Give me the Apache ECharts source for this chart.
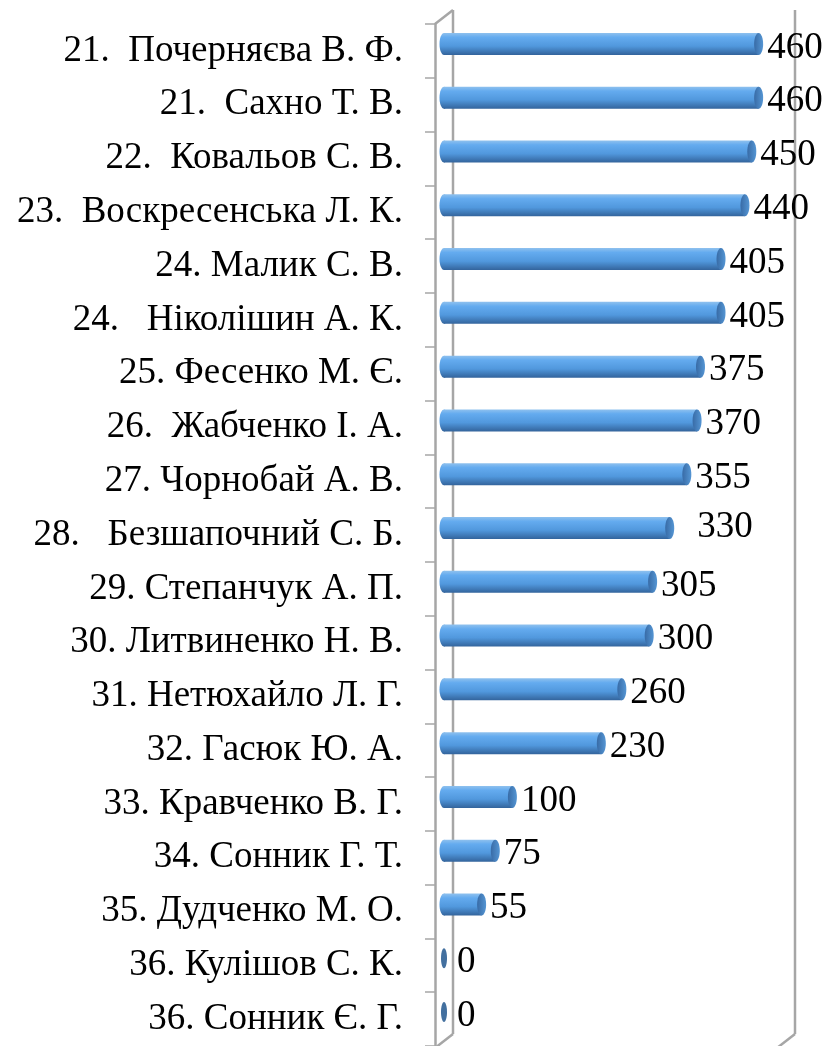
<!DOCTYPE html>
<html>
<head>
<meta charset="utf-8">
<script src="https://cdn.jsdelivr.net/npm/echarts@6/dist/echarts.min.js"></script>
<style>
  html, body { margin: 0; padding: 0; background: #fff; }
  #chart { width: 829px; height: 1046px; }
</style>
</head>
<body>
<div id="chart"></div>
<script>
// names, top to bottom
var names = [
    "21.  Почерняєва В. Ф.",
    "21.  Сахно Т. В.",
    "22.  Ковальов С. В.",
    "23.  Воскресенська Л. К.",
    "24. Малик С. В.",
    "24.   Ніколішин А. К.",
    "25. Фесенко М. Є.",
    "26.  Жабченко І. А.",
    "27. Чорнобай А. В.",
    "28.   Безшапочний С. Б.",
    "29. Степанчук А. П.",
    "30. Литвиненко Н. В.",
    "31. Нетюхайло Л. Г.",
    "32. Гасюк Ю. А.",
    "33. Кравченко В. Г.",
    "34. Сонник Г. Т.",
    "35. Дудченко М. О.",
    "36. Кулішов С. К.",
    "36. Сонник Є. Г."
];
var scores = [460, 460, 450, 440, 405, 405, 375, 370, 355, 330, 305, 300, 260, 230, 100, 75, 55, 0, 0];
var valueMax = 500;

// layout
var gridLeft = 435, gridTop = 24, gridWidth = 342, gridHeight = 1024;
var depthX = 18, depthY = -14;          // 3d wall offset
var barDx = depthX / 2, barDy = depthY / 2;
var barH = 22, capRx = 4.5;
var labelShift = { 9: [19, -5] };       // the 330 label sits off to the side
var frameColor = "#a6a6a6";
var serif = "'Liberation Serif', 'Times New Roman', serif";

var chart = echarts.init(document.getElementById("chart"));

var bodyFill = new echarts.graphic.LinearGradient(0, 0, 0, 1, [
    { offset: 0, color: "#8fc1ee" },
    { offset: 0.2, color: "#64abef" },
    { offset: 0.6, color: "#5198dd" },
    { offset: 1, color: "#33649c" }
]);
var capFill = new echarts.graphic.LinearGradient(0, 0, 1, 0, [
    { offset: 0, color: "#386ba6" },
    { offset: 1, color: "#5596d4" }
]);

function renderBar(params, api) {
    var v = api.value(0);
    var c = api.value(1);
    var p0 = api.coord([0, c]);
    var p1 = api.coord([v, c]);
    var x0 = p0[0] + barDx;
    var x1 = p1[0] + barDx;
    var y = p0[1] + barDy;
    var kids = [];
    var labelX;
    if (v > 0) {
        kids.push({ type: "rect", shape: { x: x0, y: y - barH / 2, width: x1 - x0, height: barH }, style: { fill: bodyFill } });
        kids.push({ type: "ellipse", shape: { cx: x0, cy: y, rx: capRx, ry: barH / 2 }, style: { fill: bodyFill } });
        kids.push({ type: "ellipse", shape: { cx: x1, cy: y, rx: capRx, ry: barH / 2 }, style: { fill: capFill } });
        labelX = x1 + capRx + 4;
    } else {
        kids.push({ type: "ellipse", shape: { cx: x0, cy: y, rx: 3, ry: barH / 2 - 1 }, style: { fill: "#43709f" } });
        labelX = x0 + 13;
    }
    var sh = labelShift[params.dataIndex] || [0, 0];
    kids.push({
        type: "text",
        z2: 10,
        style: {
            text: String(v),
            x: labelX + sh[0],
            y: y + 4 + sh[1],
            fill: "#000",
            font: "37px " + serif,
            verticalAlign: "middle",
            align: "left"
        }
    });
    return { type: "group", children: kids };
}

var barData = scores.map(function (s, i) { return [s, i]; });

// 3d frame: front axis, back wall edges, diagonals
var fBottom = gridTop + gridHeight;
var bTop = gridTop + depthY, bBottom = fBottom + depthY;
var bLeft = gridLeft + depthX, bRight = gridLeft + gridWidth + depthX;
function seg(x1, y1, x2, y2) {
    return { type: "line", z: 0, shape: { x1: x1, y1: y1, x2: x2, y2: y2 }, style: { stroke: frameColor, lineWidth: 2.5 } };
}

chart.setOption({
    animation: false,
    backgroundColor: "#fff",
    grid: { left: gridLeft, top: gridTop, width: gridWidth, height: gridHeight, containLabel: false },
    xAxis: {
        type: "value",
        min: 0,
        max: valueMax,
        show: false
    },
    yAxis: {
        type: "category",
        data: names,
        inverse: true,
        axisLine: { show: true, lineStyle: { color: frameColor, width: 2.5 } },
        axisTick: { show: true, length: 10, lineStyle: { color: frameColor, width: 1.5 } },
        axisLabel: { color: "#000", fontFamily: serif, fontSize: 37, margin: 32, padding: [5, 0, 0, 0] },
        splitLine: { show: false }
    },
    graphic: [
        seg(gridLeft, gridTop, bLeft, bTop),
        seg(bLeft, bTop, bLeft, bBottom),
        seg(gridLeft, fBottom, bLeft, bBottom),
        seg(bRight, bTop, bRight, bBottom),
        seg(bRight, bBottom, bRight - depthX, fBottom)
    ],
    series: [{
        type: "custom",
        renderItem: renderBar,
        encode: { x: 0, y: 1 },
        data: barData,
        z: 5
    }]
});
</script>
</body>
</html>
